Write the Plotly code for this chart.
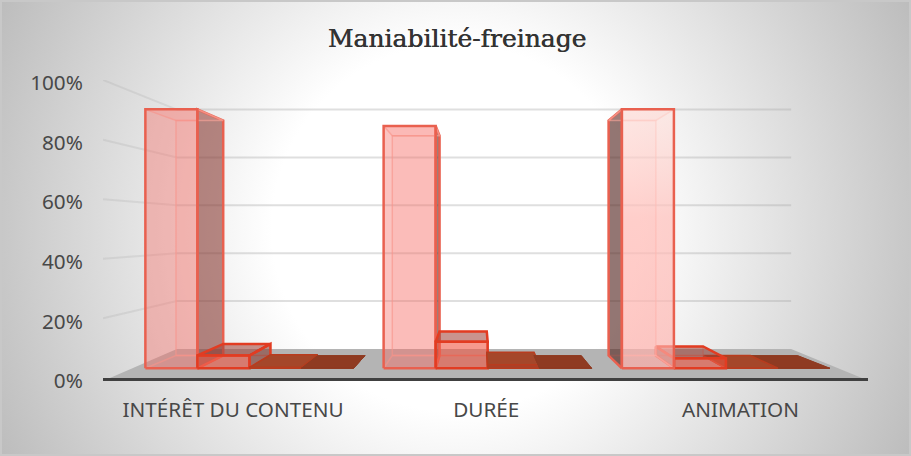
import base64
import plotly.graph_objects as go

W, H = 911, 456
categories = ["INTÉRÊT DU CONTENU", "DURÉE", "ANIMATION"]
series_a = [93, 87, 93]
series_b = [4.6, 9.5, 3.6]
series_c = [0.3, 1.3, 0]
series_d = [0, 0, 0]
y_ticks = [0, 20, 40, 60, 80, 100]
y_labels = ["0%", "20%", "40%", "60%", "80%", "100%"]
title_text = "Maniabilité-freinage"

# simple perspective: data-space vanishing point and back-plane scale
VX, VY, S_BACK = 1.47, 49.6, 0.803
T1, T2 = 1 / 3, 0.77
GAP, BW = 0.0745, 0.2184


def proj(x, v, t):
    s = 1 - (1 - S_BACK) * t
    return VX + (x - VX) * s, VY + (v - VY) * s


fig = go.Figure()


def poly(points, fill, line, width=2, gradient=None):
    xs = [p[0] for p in points] + [points[0][0]]
    ys = [p[1] for p in points] + [points[0][1]]
    kw = dict(fillgradient=gradient) if gradient else dict(fillcolor=fill)
    fig.add_trace(go.Scatter(x=xs, y=ys, mode="lines", fill="toself" if fill else None,
                             line=dict(color=line, width=width),
                             hoverinfo="skip", showlegend=False, cliponaxis=False, **kw))


def seg(a, b, color, width=2):
    fig.add_trace(go.Scatter(x=[a[0], b[0]], y=[a[1], b[1]], mode="lines",
                             line=dict(color=color, width=width),
                             hoverinfo="skip", showlegend=False, cliponaxis=False))


# floor
poly([(0.027, 0), (2.976, 0), proj(3, 0, 1), proj(0, 0, 1)], "#b4b4b4", "rgba(0,0,0,0)", 0)

# gridlines
for v in y_ticks[1:]:
    seg(proj(0, v, 0), proj(0, v, 1), "rgba(150,150,150,0.18)")
    seg(proj(0, v, 1), proj(3, v, 1), "rgba(170,170,170,0.38)")

styles = [
    dict(front="rgba(245,105,98,0.4)", back="rgba(255,150,140,0.10)", top="rgba(255,150,140,0.15)",
         edge="#e9604f", inner="rgba(250,175,165,0.6)", w=2.5),
    dict(front="rgba(240,85,65,0.55)", back="rgba(240,80,60,0.1)", top="rgba(150,60,50,0.5)",
         edge="#e23c22", inner="rgba(240,110,90,0.4)", w=2.5),
    dict(front="rgba(170,65,40,0.95)", back="rgba(160,60,35,0.9)", top="#a5472a",
         edge="#b83c1e", inner="rgba(0,0,0,0)", w=1.5),
    dict(front="rgba(140,55,32,0.95)", back="rgba(140,55,32,0.9)", top="#8f3b22",
         edge="#8f3b22", inner="rgba(0,0,0,0)", w=1),
]
side_a = ["rgba(125,50,42,0.55)", "rgba(95,45,38,0.6)", "rgba(80,40,35,0.62)"]
side_other = "rgba(120,50,40,0.5)"
front_gradient_c3 = dict(type="vertical", start=0, stop=90,
                         colorscale=[[0, "rgba(255,175,170,0.65)"], [0.6, "rgba(255,190,185,0.7)"],
                                     [1, "rgba(255,225,220,0.6)"]])
all_series = [series_a, series_b, series_c, series_d]


def bar(c, k):
    v = all_series[k][c]
    st = styles[k]
    x1 = c + GAP + k * BW
    x2 = x1 + BW
    f = lambda x, y: proj(x, y, T1)
    b = lambda x, y: proj(x, y, T2)
    side = side_a[c] if k == 0 else side_other
    # back, bottom
    poly([b(x1, 0), b(x2, 0), b(x2, v), b(x1, v)], st["back"], st["inner"], 1.5)
    poly([f(x1, 0), f(x2, 0), b(x2, 0), b(x1, 0)], st["back"], st["inner"], 1.5)
    # visible dark side
    if x2 < VX:
        poly([f(x2, 0), b(x2, 0), b(x2, v), f(x2, v)], side, st["edge"], st["w"])
    elif x1 > VX:
        poly([f(x1, 0), b(x1, 0), b(x1, v), f(x1, v)], side, st["edge"], st["w"])
    # top
    poly([f(x1, v), f(x2, v), b(x2, v), b(x1, v)], st["top"], st["edge"] if k else st["inner"], st["w"] if k else 1.5)
    # front
    grad = front_gradient_c3 if (c == 2 and k == 0) else None
    poly([f(x1, 0), f(x2, 0), f(x2, v), f(x1, v)], st["front"], st["edge"], st["w"], grad)


for c in range(3):
    order = range(4) if c < 2 else range(3, -1, -1)
    for k in order:
        bar(c, k)

svg = f"""<svg xmlns="http://www.w3.org/2000/svg" width="{W}" height="{H}">
<defs><radialGradient id="g" gradientUnits="userSpaceOnUse" cx="{W/2}" cy="{H/2}" r="510">
<stop offset="0.36" stop-color="#ffffff"/><stop offset="1" stop-color="#bcbcbc"/></radialGradient></defs>
<rect width="{W}" height="{H}" fill="url(#g)"/>
<rect x="1" y="1" width="{W-2}" height="{H-2}" fill="none" stroke="#c8c8c8" stroke-width="2"/>
</svg>"""
src = "data:image/svg+xml;base64," + base64.b64encode(svg.encode()).decode()

fig.update_layout(
    width=W, height=H, margin=dict(l=0, r=0, t=0, b=0),
    paper_bgcolor="white", plot_bgcolor="rgba(0,0,0,0)", showlegend=False,
    images=[dict(source=src, xref="paper", yref="paper", x=0, y=1, sizex=1, sizey=1,
                 sizing="stretch", layer="below", xanchor="left", yanchor="top")],
    title=dict(text=title_text, x=457 / W, xanchor="center", y=1 - 38 / H, yanchor="middle",
               automargin=False,
               font=dict(family="DejaVu Serif", size=25, color="#333333", shadow="0.5px 0 0 #333333")),
    xaxis=dict(domain=[103 / W, 868 / W], range=[0, 3], showgrid=False, zeroline=False, automargin=False,
               showline=True, linecolor="#404040", linewidth=3,
               tickmode="array", tickvals=[0.51, 1.503, 2.5], ticktext=categories,
               ticks="outside", ticklen=11, tickcolor="rgba(0,0,0,0)",
               tickfont=dict(family="Noto Sans", size=20.7, color="#484848")),
    yaxis=dict(domain=[1 - 378 / H, 1 - 80 / H], range=[0, 100], showgrid=False, zeroline=False, automargin=False,
               showline=False, tickmode="array", tickvals=y_ticks, ticktext=y_labels,
               ticks="outside", ticklen=15, tickcolor="rgba(0,0,0,0)", ticklabelshift=3,
               tickfont=dict(family="Noto Sans", size=20.7, color="#484848")),
)
fig.write_html("out.html", config=dict(displayModeBar=False),
               post_script="document.body.style.margin='0';document.documentElement.style.overflow='hidden';")
